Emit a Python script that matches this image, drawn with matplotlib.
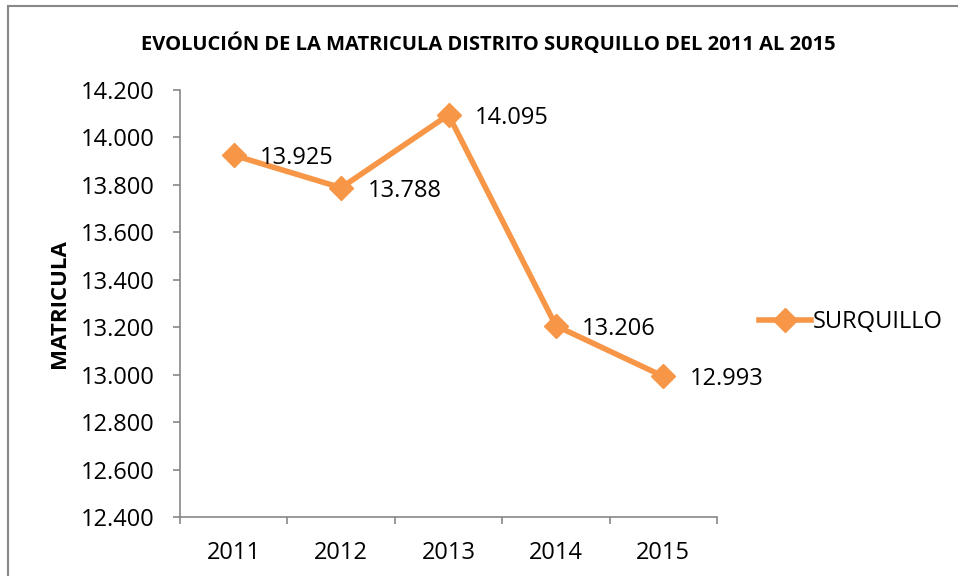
import matplotlib
matplotlib.use("Agg")
import matplotlib.pyplot as plt
from matplotlib.lines import Line2D

years = ["2011", "2012", "2013", "2014", "2015"]
matricula = [13925, 13788, 14095, 13206, 12993]
series_name = "SURQUILLO"
title = "EVOLUCIÓN DE LA MATRICULA DISTRITO SURQUILLO DEL 2011 AL 2015"
ylabel = "MATRICULA"

orange = "#F79646"
font = "Open Sans"

def fmt(v):
    return f"{v:,.0f}".replace(",", ".")

fig = plt.figure(figsize=(9.58, 5.76), dpi=100)
W, H = 958, 576

# chart border (top & left visible)
fig.add_artist(Line2D([8/W, 8/W], [0, 1 - 6/H], transform=fig.transFigure, color="#888888", lw=1.5))
fig.add_artist(Line2D([8/W, 1], [1 - 6/H, 1 - 6/H], transform=fig.transFigure, color="#888888", lw=1.5))

ax = fig.add_axes([180/W, 1 - 517/H, (717 - 180)/W, (517 - 90)/H])
x = list(range(1, len(years) + 1))
ax.plot(x, matricula, color=orange, lw=4, marker="D", markersize=12.5, solid_capstyle="round")
ax.set_xlim(0.5, len(years) + 0.5)
ax.set_ylim(12400, 14200)
ax.set_yticks(range(12400, 14201, 200))
ax.set_yticklabels([fmt(v) for v in range(12400, 14201, 200)], fontfamily=font, fontsize=17)
ax.set_xticks(x)
ax.set_xticklabels(years, fontfamily=font, fontsize=17)
ax.set_xticks([i + 0.5 for i in range(len(years) + 1)], minor=True)
ax.tick_params(axis="x", which="major", length=0, pad=17)
ax.tick_params(axis="x", which="minor", length=5, color="#888888", width=1.2)
ax.tick_params(axis="y", length=5, color="#888888", width=1.2, pad=13)
for s in ["top", "right"]:
    ax.spines[s].set_visible(False)
for s in ["left", "bottom"]:
    ax.spines[s].set_color("#888888")
    ax.spines[s].set_linewidth(1.2)

for xi, v in zip(x, matricula):
    ax.annotate(fmt(v), (xi, v), xytext=(19, -2), textcoords="offset points",
                ha="left", va="center", fontfamily=font, fontsize=17)

ax.set_ylabel(ylabel, fontfamily=font, fontsize=16, fontweight="bold")
ax.yaxis.set_label_coords((70 - 180) / (717 - 180), 0.5)

fig.text(488/W, 1 - 44/H, title, ha="center", va="center", fontfamily=font,
         fontsize=14.5, fontweight="bold")

handle = Line2D([], [], color=orange, lw=4, marker="D", markersize=12.5)
fig.legend([handle], [series_name], loc="center left", bbox_to_anchor=(759/W, 1 - 322/H),
           frameon=False, prop={"family": font, "size": 17}, handlelength=2.2,
           handletextpad=0.1, borderaxespad=0, borderpad=0)

fig.savefig("out.png", dpi=100)
